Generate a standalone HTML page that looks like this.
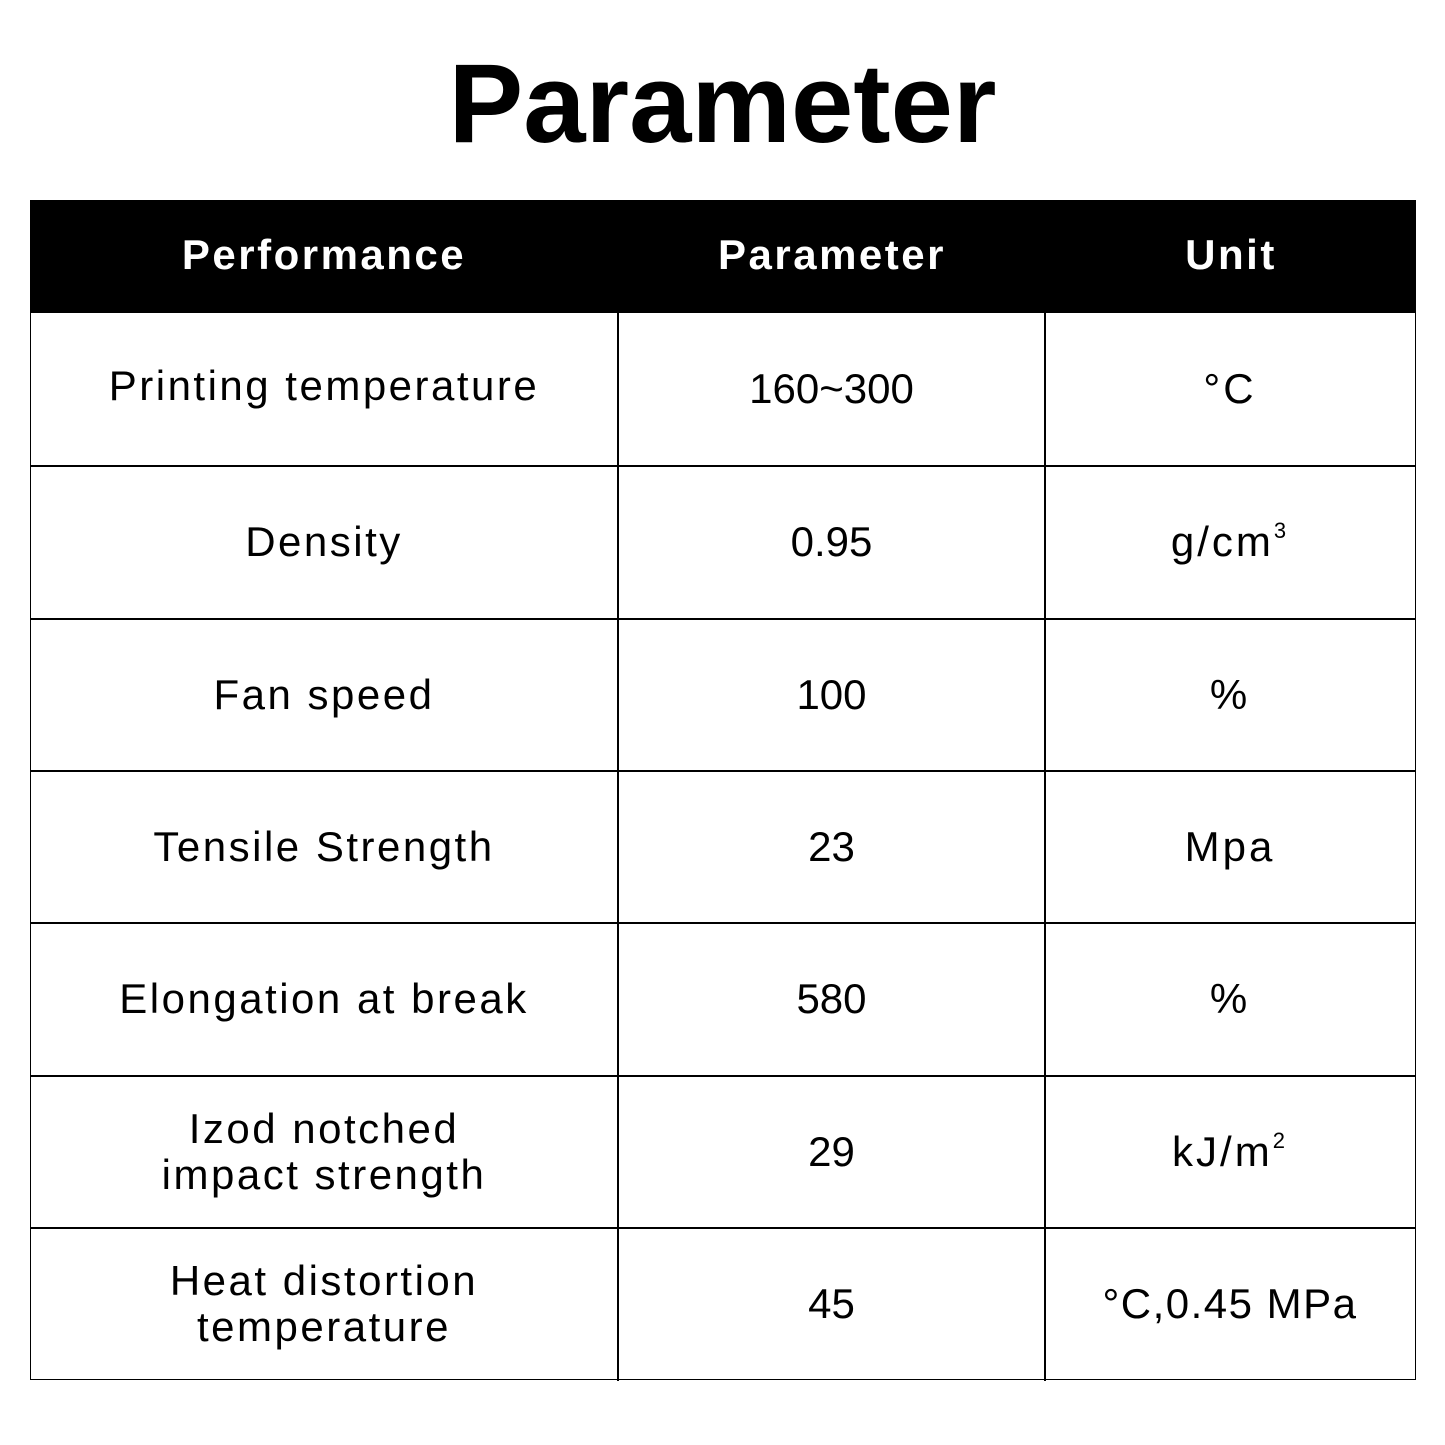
<!DOCTYPE html>
<html><head><style>
html,body{margin:0;padding:0;background:#fff;width:1445px;height:1445px;overflow:hidden;font-family:"Liberation Sans",sans-serif;}
h1{position:absolute;top:48px;left:0;width:1445px;text-align:center;margin:0;font-size:112px;font-weight:bold;line-height:112px;color:#000;}
.hdr{position:absolute;left:30px;top:200px;width:1386px;height:113px;background:#000;}
.hdr div{position:absolute;top:0;height:113px;line-height:110px;color:#fff;font-weight:bold;font-size:42px;text-align:center;letter-spacing:2.5px;}
.grid{position:absolute;left:30px;top:313px;width:1384px;height:1066px;border:1.5px solid #000;border-top:none;}
.vl{position:absolute;top:313px;height:1068px;width:1.5px;background:#000;}
.hl{position:absolute;left:30px;width:1386px;height:1.5px;background:#000;}
.c{position:absolute;text-align:center;font-size:42px;color:#000;display:flex;align-items:center;justify-content:center;line-height:46px;}
.t{letter-spacing:2.5px;}
.u{letter-spacing:3px;}
sup{font-size:22px;vertical-align:18px;line-height:0;}
</style></head><body>
<h1>Parameter</h1>
<div class="hdr">
<div style="left:0;width:588px">Performance</div>
<div style="left:588px;width:428px">Parameter</div>
<div style="left:1016px;width:370px">Unit</div>
</div>
<div class="grid"></div>
<div class="vl" style="left:617px"></div>
<div class="vl" style="left:1044px"></div>
<div class="hl" style="top:465px"></div>
<div class="hl" style="top:618px"></div>
<div class="hl" style="top:770px"></div>
<div class="hl" style="top:922px"></div>
<div class="hl" style="top:1075px"></div>
<div class="hl" style="top:1227px"></div>
<div class="c t" style="left:30px;width:588px;top:313px;height:145px">Printing temperature</div>
<div class="c" style="left:618px;width:427px;top:313px;height:152px">160~300</div>
<div class="c u" style="left:1045px;width:370px;top:313px;height:152px">°C</div>
<div class="c t" style="left:30px;width:588px;top:466px;height:152px">Density</div>
<div class="c" style="left:618px;width:427px;top:466px;height:152px">0.95</div>
<div class="c u" style="left:1045px;width:370px;top:466px;height:152px"><span>g/cm<sup>3</sup></span></div>
<div class="c t" style="left:30px;width:588px;top:619px;height:152px">Fan speed</div>
<div class="c" style="left:618px;width:427px;top:619px;height:152px">100</div>
<div class="c u" style="left:1045px;width:370px;top:619px;height:152px">%</div>
<div class="c t" style="left:30px;width:588px;top:771px;height:152px">Tensile Strength</div>
<div class="c" style="left:618px;width:427px;top:771px;height:152px">23</div>
<div class="c u" style="left:1045px;width:370px;top:771px;height:152px">Mpa</div>
<div class="c t" style="left:30px;width:588px;top:923px;height:152px">Elongation at break</div>
<div class="c" style="left:618px;width:427px;top:923px;height:152px">580</div>
<div class="c u" style="left:1045px;width:370px;top:923px;height:152px">%</div>
<div class="c t" style="left:30px;width:588px;top:1076px;height:152px"><span>Izod notched<br>impact strength</span></div>
<div class="c" style="left:618px;width:427px;top:1076px;height:152px">29</div>
<div class="c u" style="left:1045px;width:370px;top:1076px;height:152px"><span>kJ/m<sup>2</sup></span></div>
<div class="c t" style="left:30px;width:588px;top:1228px;height:152px"><span>Heat distortion<br>temperature</span></div>
<div class="c" style="left:618px;width:427px;top:1228px;height:152px">45</div>
<div class="c" style="left:1045px;width:370px;top:1228px;height:152px;letter-spacing:1.5px">°C,0.45 MPa</div>
</body></html>
